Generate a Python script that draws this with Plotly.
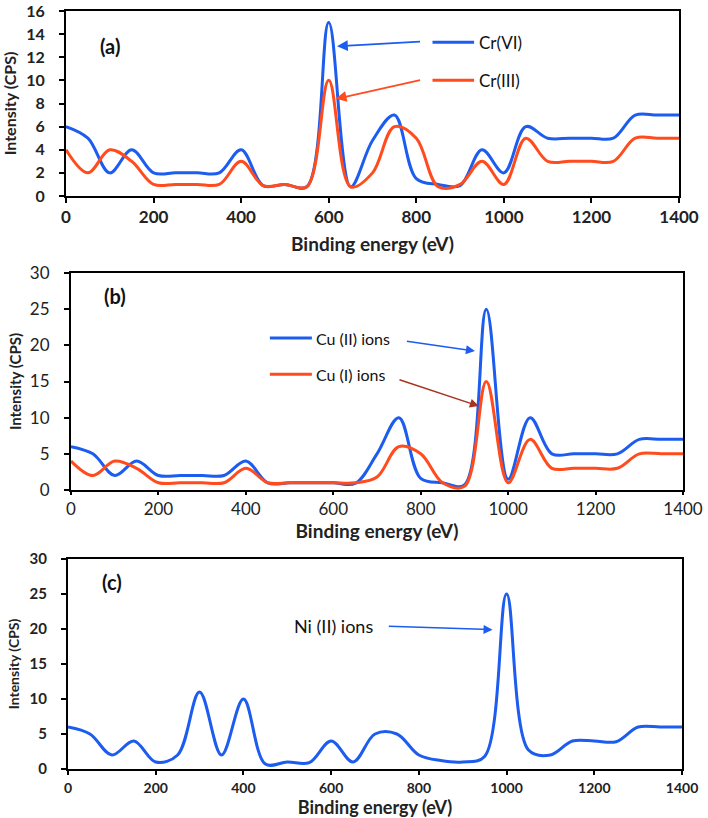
import plotly.graph_objects as go

# ---------------- data ----------------
energy = list(range(0, 1401, 50))  # Binding energy (eV)

cr_vi = [6, 5, 2, 4, 2, 2, 2, 2, 4, 0.9, 1, 0.8, 15, 0.8, 4.8, 7, 1.5, 1, 0.9, 4, 2, 6, 5, 5, 5, 5, 7, 7, 7]
cr_iii = [4, 2, 4, 3, 1, 1, 1, 1, 3, 0.9, 1, 0.8, 10, 0.8, 2, 6, 5, 0.8, 1, 3, 1, 5, 3, 3, 3, 3, 5, 5, 5]

cu_ii = [6, 5, 2, 4, 2, 2, 2, 2, 4, 1, 1, 1, 1, 0.9, 5, 10, 1.6, 1, 0.7, 25, 1.5, 10, 5, 5, 5, 5, 7, 7, 7]
cu_i = [4, 2, 4, 3, 1, 1, 1, 1, 3, 1, 1, 1, 1, 1, 1.8, 6, 5, 1, 0.5, 15, 1, 7, 3, 3, 3, 3, 5, 5, 5]

ni_ii = [6, 5, 2, 4, 1, 2, 11, 2, 10, 0.7, 1, 0.9, 4, 1, 5, 5, 2, 1.2, 1, 1.8, 25, 2.7, 2, 4, 4, 3.9, 6, 6, 6]

x_ticks = [0, 200, 400, 600, 800, 1000, 1200, 1400]

BLUE = "#1C5CEE"
RED = "#FF4B1E"
DARKRED = "#A83220"
FONT = "Lato"

W, H = 708, 818

def dom_x(a, b):
    return [a / W, b / W]

def dom_y(top, bottom):
    return [1 - bottom / H, 1 - top / H]

fig = go.Figure()

line_kw = dict(shape="spline", smoothing=1.0, width=3)

fig.add_trace(go.Scatter(x=energy, y=cr_vi, mode="lines", name="Cr(VI)",
                         line=dict(color=BLUE, **line_kw), xaxis="x", yaxis="y"))
fig.add_trace(go.Scatter(x=energy, y=cr_iii, mode="lines", name="Cr(III)",
                         line=dict(color=RED, **line_kw), xaxis="x", yaxis="y"))
fig.add_trace(go.Scatter(x=energy, y=cu_ii, mode="lines", name="Cu (II) ions",
                         line=dict(color=BLUE, **line_kw), xaxis="x2", yaxis="y2"))
fig.add_trace(go.Scatter(x=energy, y=cu_i, mode="lines", name="Cu (I) ions",
                         line=dict(color=RED, **line_kw), xaxis="x2", yaxis="y2"))
fig.add_trace(go.Scatter(x=energy, y=ni_ii, mode="lines", name="Ni (II) ions",
                         line=dict(color=BLUE, **line_kw), xaxis="x3", yaxis="y3"))


def xaxis(domain, anchor, tick_weight, tick_size, ticklen, lab_standoff, title_size, standoff):
    return dict(domain=domain, anchor=anchor, range=[0, 1400], automargin=False,
                tickmode="array", tickvals=x_ticks,
                showline=True, mirror=True, linecolor="black", linewidth=2,
                ticks="outside", ticklen=ticklen, tickwidth=1.5, tickcolor="black",
                showgrid=False, zeroline=False, ticklabeloverflow="allow",
                tickfont=dict(family=FONT, size=tick_size, color="#222", weight=tick_weight),
                ticklabelstandoff=lab_standoff,
                title=dict(text="Binding energy (eV)",
                           font=dict(family=FONT, size=title_size, color="#222", weight="bold"),
                           standoff=standoff))


def yaxis(domain, anchor, rng, dtick, tick_weight, tick_size, title_size, standoff):
    return dict(domain=domain, anchor=anchor, range=rng, dtick=dtick, automargin=False,
                showline=True, mirror=True, linecolor="black", linewidth=2,
                ticks="outside", ticklen=5, tickwidth=1.5, tickcolor="black",
                showgrid=False, zeroline=False, ticklabeloverflow="allow",
                tickfont=dict(family=FONT, size=tick_size, color="#222", weight=tick_weight),
                ticklabelstandoff=11,
                title=dict(text="Intensity (CPS)",
                           font=dict(family=FONT, size=title_size, color="#222", weight="bold"),
                           standoff=standoff))


fig.update_layout(
    width=W, height=H,
    margin=dict(l=0, r=0, t=0, b=0, autoexpand=False),
    paper_bgcolor="white", plot_bgcolor="white",
    showlegend=False,
    xaxis=xaxis(dom_x(66, 679), "y", "bold", 17, 5, 0, 19, 11),
    yaxis=yaxis(dom_y(11, 196), "x", [0, 16], 2, "bold", 16, 16, 10),
    xaxis2=xaxis(dom_x(71, 683), "y2", "normal", 17, 3, 0, 19, 4),
    yaxis2=yaxis(dom_y(273, 490), "x2", [0, 30], 5, "normal", 17, 15, 5),
    xaxis3=xaxis(dom_x(68, 682), "y3", "bold", 14, 4, 1, 18, 4),
    yaxis3=yaxis(dom_y(559, 769), "x3", [0, 30], 5, "bold", 15, 14, 7),
)

annotations = []
shapes = []

# panel labels
for txt, xr, yr, yv in [("(a)", "x", "y", 13.0), ("(b)", "x2", "y2", 26.8), ("(c)", "x3", "y3", 26.7)]:
    annotations.append(dict(text=txt, x=100, y=yv, xref=xr, yref=yr, showarrow=False,
                            font=dict(family=FONT, size=20, color="#111", weight="bold")))

# panel (a) legend keys + arrows
for col, yv, lab, tip in [(BLUE, 13.3, "Cr(VI)", (619, 12.95)), (RED, 10.0, "Cr(III)", (616, 8.4))]:
    shapes.append(dict(type="line", xref="x", yref="y", x0=837, x1=932, y0=yv, y1=yv,
                       line=dict(color=col, width=3)))
    annotations.append(dict(text=lab, x=938, y=yv, xref="x", yref="y", xanchor="left",
                            showarrow=False, font=dict(family=FONT, size=17, color="#111")))
    annotations.append(dict(text="", x=tip[0], y=tip[1], xref="x", yref="y",
                            ax=812, ay=yv + 0.05, axref="x", ayref="y", showarrow=True,
                            arrowhead=2, arrowsize=1.2, arrowwidth=1.8, arrowcolor=col, standoff=0))

# panel (b) legend keys + arrows
for col, acol, yv, lab, tail, tip in [
    (BLUE, BLUE, 21.0, "Cu (II) ions", (765, 20.6), (924, 19.2)),
    (RED, DARKRED, 16.0, "Cu (I) ions", (748, 15.3), (933, 11.6)),
]:
    shapes.append(dict(type="line", xref="x2", yref="y2", x0=455, x1=551, y0=yv, y1=yv,
                       line=dict(color=col, width=3)))
    annotations.append(dict(text=lab, x=556, y=yv, xref="x2", yref="y2", xanchor="left",
                            showarrow=False, font=dict(family=FONT, size=16, color="#111")))
    annotations.append(dict(text="", x=tip[0], y=tip[1], xref="x2", yref="y2",
                            ax=tail[0], ay=tail[1], axref="x2", ayref="y2", showarrow=True,
                            arrowhead=2, arrowsize=1.2, arrowwidth=1.5, arrowcolor=acol, standoff=0))

# panel (c) label + arrow
annotations.append(dict(text="Ni (II) ions", x=510, y=20.4, xref="x3", yref="y3", xanchor="left",
                        showarrow=False, font=dict(family=FONT, size=18, color="#111")))
annotations.append(dict(text="", x=968, y=19.9, xref="x3", yref="y3",
                        ax=728, ay=20.4, axref="x3", ayref="y3", showarrow=True,
                        arrowhead=2, arrowsize=1.2, arrowwidth=1.5, arrowcolor=BLUE, standoff=0))

fig.update_layout(annotations=annotations, shapes=shapes)

fig.write_html("out.html", config={"displayModeBar": False},
               post_script="document.body.style.margin='0';")
